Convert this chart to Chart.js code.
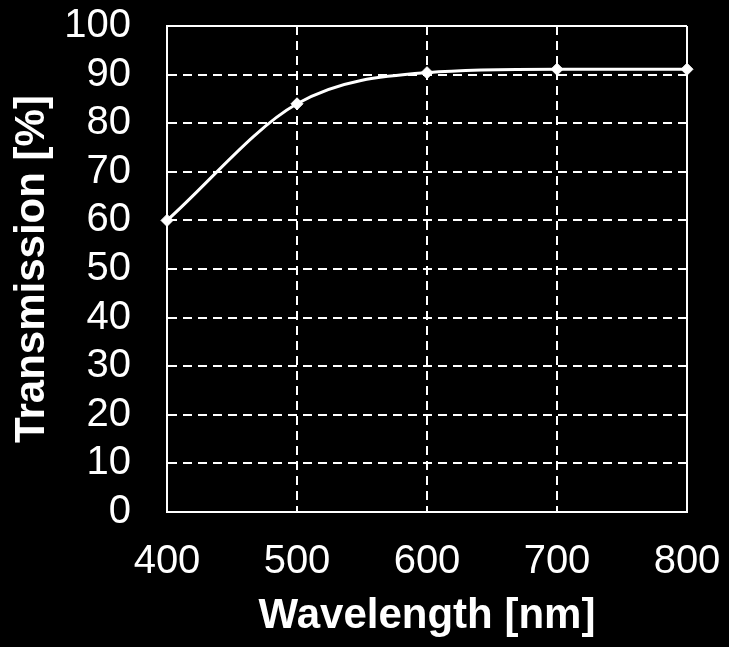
<!DOCTYPE html>
<html>
<head>
<meta charset="utf-8">
<script src="https://cdn.jsdelivr.net/npm/chart.js@4"></script>
<style>
  html, body { margin: 0; padding: 0; background: #000; }
  canvas { display: block; background: #000; }
</style>
</head>
<body>
<canvas id="grafica" width="729" height="647"></canvas>
<script>
/* datos */
const wavelengths = [400, 500, 600, 700, 800];
const transmission = [60, 84, 90.4, 91.1, 91.1];

const xTicks = [400, 500, 600, 700, 800];
const yTicks = [0, 10, 20, 30, 40, 50, 60, 70, 80, 90, 100];

const blanco = "#ffffff";
const invisible = "rgba(0,0,0,0)";
const fuenteBase = "'Liberation Sans', Arial, sans-serif";

/* ========================================================== */
function dashGrid(valorSolido) {
    return ctx =>
        ctx.tick && ctx.tick.value === valorSolido ? [] : [9, 6];
}

const puntos =
    wavelengths.map((x, i) => ({ x: x, y: transmission[i] }));

new Chart(document.getElementById("grafica"), {
    type: "line",
    data: {
        datasets: [{
            data: puntos,
            borderColor: blanco,
            backgroundColor: blanco,
            borderWidth: 3,
            cubicInterpolationMode: "monotone",
            clip: false,
            pointStyle: "rectRot",
            pointRadius: 6,
            pointBackgroundColor: blanco,
            pointBorderColor: blanco,
            pointBorderWidth: 1
        }]
    },
    options: {
        responsive: false,
        devicePixelRatio: 1,
        animation: false,
        layout: {
            padding: { top: 26, right: 42, left: 0, bottom: 0 }
        },
        plugins: {
            legend: { display: false },
            tooltip: { enabled: false }
        },
        scales: {
            x: {
                type: "linear",
                min: xTicks[0],
                max: xTicks[xTicks.length - 1],
                afterBuildTicks: s => {
                    s.ticks = xTicks.map(v => ({ value: v }));
                },
                afterFit: s => { s.height = 135; },
                grid: {
                    color: blanco,
                    lineWidth: 2,
                    drawTicks: true,
                    tickLength: 26,
                    tickColor: invisible
                },
                border: {
                    display: true,
                    color: blanco,
                    width: 2,
                    dash: dashGrid(800)
                },
                ticks: {
                    color: blanco,
                    padding: 0,
                    autoSkip: false,
                    maxRotation: 0,
                    font: { family: fuenteBase, size: 40 }
                },
                title: {
                    display: true,
                    text: "Wavelength [nm]",
                    color: blanco,
                    padding: { top: 0, bottom: 5 },
                    font: { family: fuenteBase, size: 42, weight: "bold" }
                }
            },
            y: {
                min: yTicks[0],
                max: yTicks[yTicks.length - 1],
                afterBuildTicks: s => {
                    s.ticks = yTicks.map(v => ({ value: v }));
                },
                afterFit: s => { s.width = 167; },
                grid: {
                    color: blanco,
                    lineWidth: 2,
                    drawTicks: true,
                    tickLength: 36,
                    tickColor: invisible
                },
                border: {
                    display: true,
                    color: blanco,
                    width: 2,
                    dash: dashGrid(100)
                },
                ticks: {
                    color: blanco,
                    padding: 0,
                    autoSkip: false,
                    font: { family: fuenteBase, size: 40 }
                },
                title: {
                    display: true,
                    text: "Transmission [%]",
                    color: blanco,
                    padding: { top: 7, bottom: 0 },
                    font: { family: fuenteBase, size: 42, weight: "bold" }
                }
            }
        }
    }
});
</script>
</body>
</html>
